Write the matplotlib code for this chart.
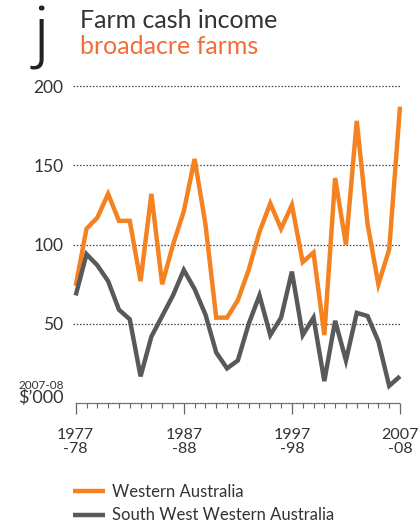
import matplotlib
matplotlib.use("Agg")
import matplotlib.pyplot as plt
from matplotlib.ticker import MultipleLocator, FixedLocator

years = list(range(1977, 2008))
western_australia = [74, 110, 117, 132, 115, 115, 77, 132, 75, 100, 121, 154, 113, 54, 54, 65,
                     84, 108, 126, 110, 125, 89, 95, 43, 142, 100, 178, 113, 75, 97, 187]
south_west_wa = [68, 94, 87, 77, 59, 53, 17, 42, 55, 68, 84, 72, 56, 32, 22, 27,
                 50, 68, 43, 54, 83, 43, 54, 14, 52, 27, 57, 55, 39, 11, 17]
y_ticks = [50, 100, 150, 200]
x_major = [1977, 1987, 1997, 2007]
x_labels = ["1977\n-78", "1987\n-88", "1997\n-98", "2007\n-08"]

ORANGE = "#F58220"
TITLE_ORANGE = "#F26D38"
GRAY = "#58595B"
TEXT = "#333333"
FONT = "Lato"

plt.rcParams["font.family"] = [FONT, "DejaVu Sans"]

W, H = 419, 531
fig = plt.figure(figsize=(W / 100, H / 100), dpi=100)

px_per_year = 10.81
x_left_px, x_right_px = 73, 402
y0_px, y200_px = 403.3, 86.0
ppu = (y0_px - y200_px) / 200
ytop_val = 205
ytop_px = y0_px - ytop_val * ppu
xmin = 1977 - (75.7 - x_left_px) / px_per_year
xmax = 2007 + (x_right_px - 400) / px_per_year
ax = fig.add_axes([x_left_px / W, (H - y0_px) / H, (x_right_px - x_left_px) / W, (y0_px - ytop_px) / H])
ax.set_xlim(xmin, xmax)
ax.set_ylim(0, ytop_val)

for v in y_ticks:
    ax.hlines(v, xmin, 2007, colors="#444444", linestyles=(0, (1.2, 1.4)), linewidth=0.9, zorder=1)

l1, = ax.plot(years, western_australia, color=ORANGE, lw=3.2, solid_joinstyle="miter",
              solid_capstyle="butt", zorder=3, label="Western Australia")
l2, = ax.plot(years, south_west_wa, color=GRAY, lw=3.2, solid_joinstyle="miter",
              solid_capstyle="butt", zorder=3, label="South West Western Australia")

for s in ["top", "right", "left"]:
    ax.spines[s].set_visible(False)
ax.spines["bottom"].set_bounds(1977, 2007)
ax.spines["bottom"].set_linestyle((0, (1, 1.2)))
ax.spines["bottom"].set_color("#666666")
ax.spines["bottom"].set_linewidth(0.9)

ax.xaxis.set_major_locator(FixedLocator(x_major))
ax.xaxis.set_minor_locator(MultipleLocator(1))
ax.set_xticklabels(x_labels)
ax.tick_params(axis="x", which="major", length=8, width=0.9, color="#666666", direction="out",
               pad=10, labelsize=11.5, labelcolor=TEXT)
ax.tick_params(axis="x", which="minor", length=3.5, width=0.8, color="#666666", direction="out")
for lab in ax.get_xticklabels():
    lab.set_linespacing(0.95)

ax.set_yticks(y_ticks)
ax.set_yticklabels([str(v) for v in y_ticks])
ax.tick_params(axis="y", length=0, pad=7, labelsize=12.5, labelcolor=TEXT)

# unit labels
fig.text(64 / W, 1 - 389 / H, "2007-08", ha="right", va="baseline", fontsize=8.5, color=TEXT)
fig.text(64 / W, 1 - 403 / H, "$\u2019000", ha="right", va="baseline", fontsize=13, color=TEXT)

# title
fig.text(41 / W, 1 - 55 / H, "j", ha="center", va="baseline", fontsize=50, color="#222222",
         family=["Roboto", "DejaVu Sans"], fontweight=300)
fig.text(80 / W, 1 - 28 / H, "Farm cash income", ha="left", va="baseline", fontsize=18, color=TEXT)
fig.text(80 / W, 1 - 54 / H, "broadacre farms", ha="left", va="baseline", fontsize=18, color=TITLE_ORANGE)

# legend
leg = fig.legend(handles=[l1, l2], loc="upper left", bbox_to_anchor=(73 / W, 1 - 484 / H),
                 frameon=False, fontsize=12, handlelength=1.9, handletextpad=0.45,
                 labelspacing=0.45, borderaxespad=0, borderpad=0)
for t in leg.get_texts():
    t.set_color(TEXT)

fig.savefig("out.png", dpi=100)
